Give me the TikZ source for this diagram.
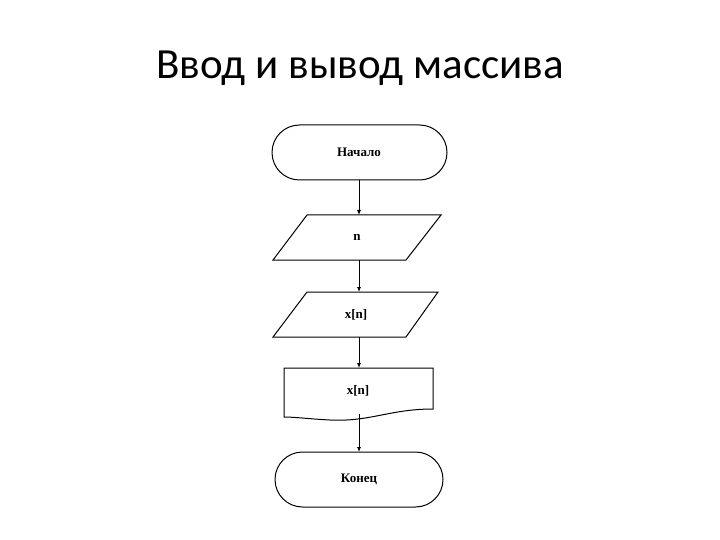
\documentclass[tikz,border=0pt]{standalone}
\usepackage{fontspec}
\setmainfont{Liberation Serif}
\newfontfamily\titlefont{Carlito}
\usetikzlibrary{arrows.meta}
\begin{document}
\begin{tikzpicture}[x=1pt,y=-1pt,
  lbl/.style={font=\bfseries\fontsize{13}{15}\selectfont},
  ln/.style={line width=1pt},
  arr/.style={line width=0.8pt,-{Latex[length=5pt,width=4pt]}}]
\useasboundingbox (0,0) rectangle (720,540);
\node[font=\titlefont\fontsize{43}{50}\selectfont] (title) at (360,68) {Ввод и вывод массива};
% start
\draw[ln,rounded corners=27.5pt] (272,125) rectangle (447,180);
\node[lbl] (start) at (359,152.5) {Начало};
% input n
\draw[ln] (307,215) -- (441,215) -- (406,260) -- (273,260) -- cycle;
\node[lbl] (in1) at (357,237.5) {n};
% input x[n]
\draw[ln] (307,292) -- (438,292) -- (406,337) -- (273,337) -- cycle;
\node[lbl] (in2) at (356,314.5) {x[n]};
% document
\draw[ln] (284,368) -- (433,368) -- (433,409) .. controls (390,409) and (370,422) .. (330,420) .. controls (310,419) and (295,417) .. (284,417) -- cycle;
\node[lbl] (doc) at (358,391) {x[n]};
% end
\draw[ln,rounded corners=27.5pt] (275,452) rectangle (443,507);
\node[lbl] (end) at (359,479.5) {Конец};
\coordinate (a1) at (359,180); \coordinate (b1) at (359,215);
\coordinate (a2) at (359,260); \coordinate (b2) at (359,292);
\coordinate (a3) at (359,337); \coordinate (b3) at (359,368);
\coordinate (a4) at (359,414); \coordinate (b4) at (359,452);
\draw[arr] (a1) -- (b1);
\draw[arr] (a2) -- (b2);
\draw[arr] (a3) -- (b3);
\draw[arr] (a4) -- (b4);
\end{tikzpicture}
\end{document}
